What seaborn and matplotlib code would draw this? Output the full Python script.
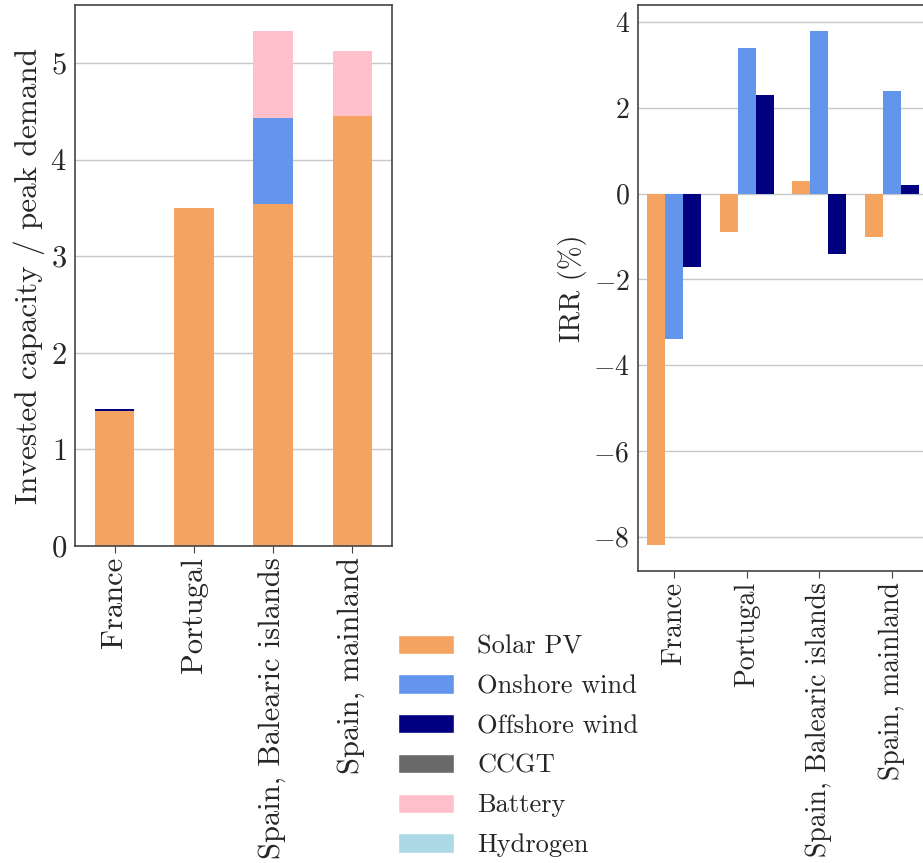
import numpy as np
import pandas as pd
import matplotlib
matplotlib.use("Agg")
import matplotlib.pyplot as plt
import seaborn as sns
from matplotlib.patches import Patch

# =============================================================================
# data
# =============================================================================
regions = ["France", "Portugal", "Spain, Balearic islands", "Spain, mainland"]
techs = ["Solar PV", "Onshore wind", "Offshore wind", "CCGT", "Battery", "Hydrogen"]
colors = ["sandybrown", "cornflowerblue", "navy", "dimgray", "pink", "lightblue"]

# invested capacity / peak demand
cap_solar = [1.40, 3.50, 3.54, 4.45]
cap_onshore = [0.0, 0.0, 0.89, 0.0]
cap_offshore = [0.02, 0.0, 0.0, 0.0]
cap_ccgt = [0.0, 0.0, 0.0, 0.0]
cap_battery = [0.0, 0.0, 0.90, 0.67]
cap_hydrogen = [0.0, 0.0, 0.0, 0.0]

# IRR (%)
irr_solar = [-8.2, -0.9, 0.3, -1.0]
irr_onshore = [-3.4, 3.4, 3.8, 2.4]
irr_offshore = [-1.7, 2.3, -1.4, 0.2]

sns.set_style("whitegrid")
plt.rcParams["font.family"] = ["cmr10", "DejaVu Serif"]
plt.rcParams["mathtext.fontset"] = "cm"
plt.rcParams["axes.formatter.use_mathtext"] = True
plt.rcParams["axes.unicode_minus"] = True

fig = plt.figure(figsize=(9.23, 8.63), dpi=100)
W, H = 923, 863
ax1 = fig.add_axes([75 / W, 1 - 546 / H, 317 / W, 541 / H])
ax2 = fig.add_axes([638 / W, 1 - 571 / H, 290 / W, 566 / H])

# ---- stacked capacity (draw cumulative totals from top down) ----
cap = pd.DataFrame({"Solar PV": cap_solar, "Onshore wind": cap_onshore,
                    "Offshore wind": cap_offshore, "CCGT": cap_ccgt,
                    "Battery": cap_battery, "Hydrogen": cap_hydrogen},
                   index=regions)
cum = cap.cumsum(axis=1)
for t, c in reversed(list(zip(techs, colors))):
    sns.barplot(x=regions, y=cum[t].values, color=c, width=0.5,
                saturation=1, linewidth=0, ax=ax1)
ax1.set_ylim(0, 5.6)
ax1.set_xlim(-0.5, 3.5)
ax1.set_ylabel("Invested capacity / peak demand", fontsize=22.5)
ax1.tick_params(axis="x", labelsize=22)
ax1.tick_params(axis="y", labelsize=22)

# ---- IRR grouped bars ----
irr = pd.DataFrame({"region": regions * 3,
                    "tech": ["Solar PV"] * 4 + ["Onshore wind"] * 4 + ["Offshore wind"] * 4,
                    "irr": irr_solar + irr_onshore + irr_offshore})
sns.barplot(data=irr, x="region", y="irr", hue="tech", palette=colors[:3],
            width=0.75, saturation=1, linewidth=0, legend=False, ax=ax2)
ax2.set_ylim(-8.8, 4.4)
ax2.set_xlim(-0.5, 3.5)
ax2.set_yticks([-8, -6, -4, -2, 0, 2, 4])
ax2.set_ylabel("IRR (%)", fontsize=20.5)
ax2.tick_params(axis="x", labelsize=20)
ax2.tick_params(axis="y", labelsize=20)

for ax in (ax1, ax2):
    ax.set_xlabel("")
    ax.grid(axis="x", visible=False)
    ax.grid(axis="y", color="#c8c8c8", linewidth=1)
    ax.tick_params(axis="x", labelrotation=90, length=5, pad=3,
                   color="#444444", bottom=True)
    ax.tick_params(axis="y", length=0, pad=6)
    for s in ax.spines.values():
        s.set_color("#444444")
        s.set_linewidth(1.2)
ax2.spines["right"].set_visible(False)

handles = [Patch(facecolor=c, label=t) for t, c in zip(techs, colors)]
fig.legend(handles=handles, loc="upper left", bbox_to_anchor=(374 / W, 1 - 611 / H),
           frameon=False, fontsize=19, handlelength=2.15, handleheight=0.75,
           labelspacing=0.6, handletextpad=0.87)

fig.savefig("out.png", dpi=100)
